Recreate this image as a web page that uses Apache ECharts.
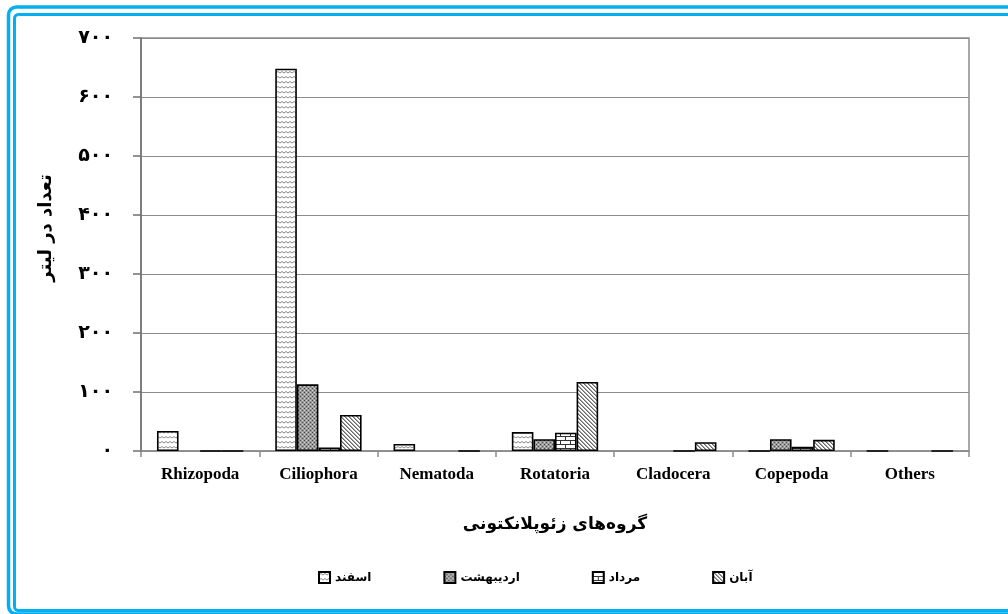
<!DOCTYPE html>
<html>
<head>
<meta charset="utf-8">
<script src="https://cdn.jsdelivr.net/npm/echarts@6/dist/echarts.min.js"></script>
<style>
  html, body { margin: 0; padding: 0; background: #fff; }
  #chart { width: 1008px; height: 614px; }
</style>
</head>
<body>
<div id="chart"></div>
<script>
// Zooplankton groups (x axis)
const categories = ['Rhizopoda', 'Ciliophora', 'Nematoda', 'Rotatoria', 'Cladocera', 'Copepoda', 'Others'];

// Sampling months (legend order)
const seriesNames = ['اسفند', 'اردیبهشت', 'مرداد', 'آبان'];

// Counts per litre; null = no bar drawn
const esfand      = [34, 648, 12, 32, null, 0, 0];
const ordibehesht = [null, 113, null, 20, null, 20, null];
const mordad      = [0, 6, null, 31, 0, 7, null];
const aban        = [0, 61, 0, 117, 15, 19, 0];

// Axis tick values and Persian digits used for their labels
const yTicks = [0, 100, 200, 300, 400, 500, 600, 700];
const persianDigits = ['۰', '۱', '۲', '۳', '۴', '۵', '۶', '۷', '۸', '۹'];

const axisTitleY = 'تعداد در لیتر';
const axisTitleX = 'گروه‌های زئوپلانکتونی';

function toPersian(n) {
  return String(n).replace(/[0-9]/g, d => persianDigits[+d]);
}

// ---- fill patterns drawn on small canvases ----
function makeCanvas(w, h, draw) {
  const c = document.createElement('canvas');
  c.width = w; c.height = h;
  const ctx = c.getContext('2d');
  ctx.fillStyle = '#fff';
  ctx.fillRect(0, 0, w, h);
  draw(ctx);
  return c;
}

// wavy horizontal lines
const wavePattern = makeCanvas(8, 5, ctx => {
  ctx.strokeStyle = '#8a8a8a';
  ctx.lineWidth = 1;
  ctx.beginPath();
  ctx.moveTo(0, 3); ctx.lineTo(2, 1.5); ctx.lineTo(4, 3); ctx.lineTo(6, 1.5); ctx.lineTo(8, 3);
  ctx.stroke();
});

// dense dark dots
const dotPattern = makeCanvas(4, 4, ctx => {
  ctx.fillStyle = '#9a9a9a';
  ctx.fillRect(0, 0, 4, 4);
  ctx.fillStyle = '#4a4a4a';
  ctx.fillRect(0, 0, 1, 1);
  ctx.fillRect(2, 2, 1, 1);
  ctx.fillStyle = '#cfcfcf';
  ctx.fillRect(2, 0, 1, 1);
  ctx.fillRect(0, 2, 1, 1);
});

// bricks
const brickPattern = makeCanvas(10, 8, ctx => {
  ctx.fillStyle = '#333';
  ctx.fillRect(0, 0, 10, 1);
  ctx.fillRect(0, 4, 10, 1);
  ctx.fillRect(0, 0, 1, 4);
  ctx.fillRect(5, 4, 1, 4);
});

// diagonal lines
const diagPattern = makeCanvas(4, 4, ctx => {
  ctx.fillStyle = '#666';
  for (let i = 0; i < 4; i++) {
    ctx.fillRect(i, i, 1, 1);
  }
  ctx.fillStyle = '#aaa';
  for (let i = 0; i < 4; i++) {
    ctx.fillRect((i + 1) % 4, i, 1, 1);
  }
});

const patterns = [wavePattern, dotPattern, brickPattern, diagPattern];
const seriesData = [esfand, ordibehesht, mordad, aban];

const chart = echarts.init(document.getElementById('chart'), null, { renderer: 'canvas' });

const series = seriesNames.map((name, i) => ({
  name: name,
  type: 'bar',
  data: seriesData[i],
  barGap: '0%',
  barCategoryGap: '27%',
  itemStyle: {
    color: { image: patterns[i], repeat: 'repeat' },
    borderColor: '#000',
    borderWidth: 1.6
  },
  emphasis: { disabled: true }
}));

const option = {
  animation: false,
  backgroundColor: '#fff',
  grid: {
    left: 141, right: 39, top: 38, bottom: 163,
    show: true,
    borderColor: '#8c8c8c',
    borderWidth: 1.5
  },
  legend: {
    data: seriesNames,
    left: 313,
    top: 566,
    itemGap: 72,
    itemWidth: 11,
    itemHeight: 11,
    icon: 'rect',
    textStyle: {
      fontFamily: 'DejaVu Sans',
      fontWeight: 'bold',
      fontSize: 12,
      color: '#000'
    }
  },
  xAxis: {
    type: 'category',
    data: categories,
    axisLine: { lineStyle: { color: '#8c8c8c', width: 1.5 } },
    axisTick: { show: true, length: 6, lineStyle: { color: '#8c8c8c', width: 1.5 } },
    axisLabel: {
      margin: 15,
      fontFamily: 'Liberation Serif',
      fontWeight: 'bold',
      fontSize: 17,
      color: '#000'
    },
    name: axisTitleX,
    nameLocation: 'middle',
    nameGap: 65,
    nameTextStyle: {
      fontFamily: 'DejaVu Sans',
      fontWeight: 'bold',
      fontSize: 17,
      color: '#000'
    }
  },
  yAxis: {
    type: 'value',
    min: yTicks[0],
    max: yTicks[yTicks.length - 1],
    interval: yTicks[1] - yTicks[0],
    axisLine: { show: true, lineStyle: { color: '#707070', width: 1.5 } },
    axisTick: { show: true, inside: false, length: 8, lineStyle: { color: '#707070', width: 1.5 } },
    splitLine: { lineStyle: { color: '#8c8c8c', width: 1.2 } },
    axisLabel: {
      margin: 28,
      fontFamily: 'DejaVu Sans',
      fontWeight: 'bold',
      fontSize: 19,
      color: '#000',
      formatter: v => toPersian(v)
    }
  },
  graphic: [
    {
      type: 'rect',
      silent: true,
      shape: { x: 8.5, y: 7, width: 1040, height: 607, r: 8 },
      style: { fill: null, stroke: '#00b0f0', lineWidth: 3.5 }
    },
    {
      type: 'rect',
      silent: true,
      shape: { x: 14.5, y: 14.5, width: 1030, height: 596, r: 4 },
      style: { fill: null, stroke: '#00b0f0', lineWidth: 3 }
    },
    {
      // y axis title, rotated to read upward
      type: 'text',
      silent: true,
      x: 46,
      y: 228,
      rotation: Math.PI / 2,
      style: {
        text: axisTitleY,
        fontFamily: 'DejaVu Sans',
        fontWeight: 'bold',
        fontSize: 18,
        fill: '#000',
        align: 'center',
        verticalAlign: 'middle'
      }
    }
  ],
  series: series
};

chart.setOption(option);
</script>
</body>
</html>
